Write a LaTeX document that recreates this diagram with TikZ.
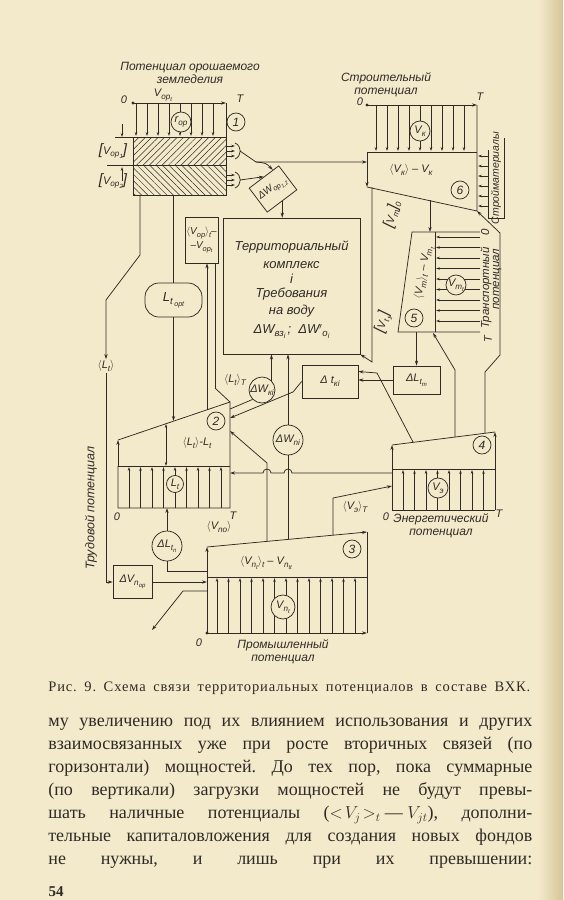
\documentclass[tikz,border=0pt]{standalone}
\usepackage{amsmath}
\usepackage{fontspec}
\setmainfont{Liberation Serif}
\newfontfamily\drawfont{Liberation Sans}
\newfontfamily\capfont[LetterSpace=6]{Liberation Serif}
\usetikzlibrary{arrows.meta,patterns.meta,calc}
\definecolor{paper}{RGB}{243,234,203}
\definecolor{inkgray}{RGB}{48,42,38}
\definecolor{paperedge}{RGB}{214,196,152}
\newcommand{\sbs}[1]{\raisebox{-0.45ex}{\scalebox{0.74}{#1}}}
\newcommand{\angl}[1]{$\langle$#1$\rangle$}
\newcommand{\brk}[1]{{\fontsize{15}{15}\selectfont[}#1{\fontsize{15}{15}\selectfont]}}

\begin{document}
\frenchspacing
\begin{tikzpicture}[x=1pt, y=-1pt, color=inkgray, line width=0.75pt,
    flow/.style={-{Stealth[length=5pt,width=3.2pt]}},
    smallarr/.style={-{Stealth[length=4pt,width=2.6pt]}, line width=0.6pt},
    lbl/.style={font=\drawfont\itshape\fontsize{11}{12}\selectfont, inner sep=1pt},
    ttl/.style={font=\drawfont\itshape\fontsize{12}{13}\selectfont, align=center, inner sep=0pt},
    numc/.style={circle, draw, fill=paper, inner sep=0pt, minimum size=18pt, font=\drawfont\itshape\fontsize{12}{12}\selectfont},
    valc/.style={circle, draw, fill=paper, inner sep=0pt, minimum size=20pt, font=\drawfont\itshape\fontsize{11}{12}\selectfont},
    boxn/.style={draw, fill=paper, inner sep=1pt, align=center, font=\drawfont\itshape\fontsize{11}{13}\selectfont},
    hatchne/.style={pattern={Lines[angle=45,distance=4.5pt,line width=0.5pt]}, pattern color=inkgray},
    hatchnw/.style={pattern={Lines[angle=-45,distance=4.5pt,line width=0.5pt]}, pattern color=inkgray},
    bodytext/.style={font=\fontsize{18}{23}\selectfont, inner sep=0pt, align=left}]

    % page
    \useasboundingbox (0,0) rectangle (563,900);
    \fill[paper] (0,0) rectangle (563,900);
    \shade[left color=paper, right color=paperedge, draw=none] (538,0) rectangle (563,900);

    % irrigated agriculture potential (1)
    \node[ttl] (ttl1) at (190,73) {Потенциал орошаемого\\земледелия};
    \coordinate (b1o) at (133,103);
    \coordinate (b1T) at (226,103);
    \coordinate (b1bl) at (133,195);
    \coordinate (b1br) at (226,195);
    \coordinate (b1out) at (140,195);
    \fill (b1o) circle[radius=1.6pt];
    \draw[flow] (b1o) -- (b1T);
    \draw (b1T) -- (226,137);
    \foreach \x in {136,147,...,214} \draw[smallarr] (\x,103) -- (\x,136);
    \draw (115,137) -- (226,137);
    \draw[hatchne] (133,137) rectangle (226,165);
    \draw[hatchnw] (133,165) rectangle (b1br);
    \draw (107,165) -- (133,165);
    \draw[smallarr] (122,124) -- (122,137);
    \draw[smallarr] (122,181) -- (122,167);
    \node[lbl] (o1) at (124,100) {0};
    \node[lbl] (vopt) at (163,95) {V\sbs{op\sbs{t}}};
    \node[lbl] (t1) at (240,99) {T};
    \node[valc] (rop) at (181,122) {r\sbs{op}};
    \node[numc] (n1) at (236,122) {1};
    \node[lbl] (vop1) at (113,151) {\brk{V\sbs{op\sbs{1}}}};
    \node[lbl] (vop2) at (113,181) {\brk{V\sbs{op\sbs{2}}}};
    \foreach \dy in {-5,0,5} {
        \draw[smallarr] (226,151+\dy) -- (235,151+\dy);
        \draw[smallarr] (226,180+\dy) -- (235,180+\dy);
    }
    \draw (235,143) .. controls (242,146) and (242,156) .. (235,159);
    \draw (235,172) .. controls (242,175) and (242,185) .. (235,188);
    \coordinate (fan1) at (240,151);
    \coordinate (fan2) at (240,180);

    % water use of irrigation
    \node[boxn, rotate=37, minimum width=37pt, minimum height=30pt, font=\drawfont\itshape\fontsize{10}{12}\selectfont] (dwop) at (273,189) {ΔW\sbs{op\sbs{1,2}}};
    \draw[flow] (fan2) -- (dwop.north);
    \draw[flow] (fan1) -- (256,162) -- (367,162);
    \draw[flow] (256,162) .. controls (266,163) .. ($(dwop.north)!0.6!(dwop.north east)$);

    % territorial complex
    \node[boxn, minimum width=137pt, minimum height=136pt] (terr) at (291.5,286) {};
    \node[font=\drawfont\itshape\fontsize{13}{17}\selectfont, align=center, inner sep=0pt] (terrtxt) at (291.5,290)
        {Территориальный\\[1pt]комплекс\\[-2pt]i\\[-3pt]Требования\\на воду\\[2pt]ΔW\sbs{вз\sbs{i}}\,;\;\;ΔW$'$\sbs{o\sbs{i}}};
    \draw[flow] (dwop.south) -- (dwop.south |- terr.north);

    \node[boxn, minimum width=33pt, minimum height=46pt, font=\drawfont\itshape\fontsize{10}{14}\selectfont] (vopbox) at (201.5,240)
        {\angl{V\sbs{op}}\sbs{t}–\\–V\sbs{op\sbs{t}}};
    \node[boxn, rounded corners=14pt, minimum width=57pt, minimum height=34pt, font=\drawfont\itshape\fontsize{13}{13}\selectfont] (ltopt) at (173.5,300)
        {L\sbs{t\,\sbs{opt}}};

    % labour potential (2)
    \coordinate (b2tl) at (118,440);
    \coordinate (b2tr) at (230,402);
    \coordinate (b2ml) at (118,466);
    \coordinate (b2mr) at (230,466);
    \coordinate (b2bl) at (118,508);
    \coordinate (b2br) at (230,508);
    \draw (b2tl) -- (b2tr) -- (b2br) -- (b2bl) -- (b2ml);
    \draw[flow] (b2ml) -- (b2tl);
    \draw (b2ml) -- (b2mr);
    \foreach \x in {129,140.5,...,222} \draw[smallarr] (\x,508) -- (\x,467);
    \node[valc, minimum size=17pt] (lt) at (175,484) {L\sbs{t}};
    \node[numc] (n2) at (216,421) {2};
    \node[lbl] (ltdiff) at (197,443) {\angl{L\sbs{t}}-L\sbs{t}};
    \draw[{Stealth[length=4pt,width=2.4pt]}-{Stealth[length=4pt,width=2.4pt]}, line width=0.6pt] (166,424) -- (166,466);
    \node[lbl] (o2) at (117,517) {0};
    \node[lbl] (t2) at (233,516) {T};
    \node[ttl, rotate=90, font=\drawfont\itshape\fontsize{12.5}{13}\selectfont] (trud) at (91,508) {Трудовой потенциал};

    \draw (b1bl -| ltopt.north) -- (ltopt.north);
    \coordinate (ltin) at (173.5,421);
    \draw[flow] (ltopt.south) -- (ltin);
    \node[lbl] (ltl) at (106,366) {\angl{L\sbs{t}}};
    \draw[flow] (b1out) -- (140,255) -- (106,300) -- (ltl.north);

    % industrial potential (3)
    \coordinate (b3tl) at (207,547);
    \coordinate (b3tr) at (367,532);
    \coordinate (b3ml) at (207,577);
    \coordinate (b3mr) at (367,577);
    \coordinate (b3o) at (207,633);
    \coordinate (b3br) at (367,633);
    \fill (b3o) circle[radius=1.6pt];
    \draw[flow] (b3o) -- (b3br);
    \draw (b3br) -- (b3tr);
    \draw[flow] (b3tl) -- (b3tr);
    \draw (b3o) -- (b3ml);
    \draw[flow] (b3ml) -- (b3tl);
    \draw (b3ml) -- (b3mr);
    \foreach \x in {217,228.5,...,360} \draw[smallarr] (\x,633) -- (\x,578);
    \node[valc, minimum size=24pt] (vnt) at (283,607) {V\sbs{n\sbs{t}}};
    \node[numc] (n3) at (352,549) {3};
    \node[lbl] (vntdiff) at (266,563) {\angl{V\sbs{n\sbs{t}}}\sbs{t} – V\sbs{n\sbs{tt}}};
    \node[lbl] (o3) at (199,643) {0};
    \node[ttl] (prom) at (283,652) {Промышленный\\потенциал};
    \node[lbl] (vno) at (219,527) {\angl{V\sbs{no}}};

    \node[valc, minimum size=30pt] (dltn) at (167,546) {ΔL\sbs{t\sbs{n}}};
    \draw[flow] (dltn.north) -- (dltn.north |- b2bl);
    \coordinate (b3a) at (207,571);
    \draw (dltn.south) -- (dltn.south |- b3a) -- (b3a);

    \node[boxn, minimum width=39pt, minimum height=33pt] (vnop) at (132.5,582) {ΔV\sbs{n\sbs{op}}};
    \draw[flow] (ltl.south) -- (ltl.south |- vnop.west) -- (vnop.west);
    \draw[flow] (vnop.east) -- (vnop.east -| b3ml);
    \coordinate (b3out) at (207,591);
    \coordinate (outend) at (152,630);
    \draw[flow] (b3out) -- (183,591) -- (outend);

    % energy potential (4)
    \coordinate (b4tl) at (392,445);
    \coordinate (b4tr) at (495,432);
    \coordinate (b4ml) at (392,469);
    \coordinate (b4mr) at (495,469);
    \coordinate (b4o) at (392,510);
    \coordinate (b4br) at (495,510);
    \draw (b4tl) -- (b4tr);
    \draw[flow] (b4br) -- (b4tr);
    \draw (b4o) -- (b4br);
    \draw (b4o) -- (b4ml);
    \draw[flow] (b4ml) -- (b4tl);
    \draw (b4ml) -- (b4mr);
    \foreach \x in {403,414.5,...,490} \draw[smallarr] (\x,510) -- (\x,470);
    \node[valc] (ve) at (438,488) {V\sbs{э}};
    \node[numc] (n4) at (482,445) {4};
    \node[lbl] (o4) at (386,517) {0};
    \node[lbl] (t4) at (499,514) {T};
    \node[ttl] (energ) at (441,526) {Энергетический\\потенциал};

    \coordinate (b3e) at (333,535);
    \coordinate (b4in) at (392,486);
    \draw[flow] (b3e) -- (333,498) -- (b4in);
    \node[lbl] (vet) at (355,507) {\angl{V\sbs{э}}\sbs{T}};

    \coordinate (b4w) at (392,473);
    \coordinate (b2e) at (230,473);
    \draw[flow] (b4w) -- (292,473) arc[start angle=0,end angle=180,radius=4pt]
        -- (271,473) arc[start angle=0,end angle=180,radius=4pt] -- (b2e);

    % water use links
    \node[valc, minimum size=30pt] (dwni) at (288,440) {ΔW\sbs{ni}};
    \node[valc, minimum size=26pt] (dwki) at (262,390) {ΔW\sbs{кi}};
    \node[lbl] (ltT) at (235,380) {\angl{L\sbs{t}}\sbs{T}};
    \node[boxn, minimum width=56pt, minimum height=33pt] (dtki) at (330,381.5) {Δ t\sbs{кi}};

    \coordinate (b3c) at (267,541);
    \coordinate (b3d) at (288,539);
    \coordinate (b2r1) at (230,418);
    \coordinate (b2r2) at (230,431);
    \coordinate (b2r3) at (230,409);
    \draw[flow] (b3c) -- (267,463) -- (b2r2);
    \draw (b3d) -- (dwni.south);
    \draw[flow] (dwni.north) -- (dwni.north |- terr.south);
    \draw[flow] (dwki.north east) -- (dwki.north east |- terr.south);
    \draw (dwki.south west) -- (b2r3);
    \draw[flow] (dtki.west) -- (293,392) -- (b2r1);

    \coordinate (b2v) at (207,410);
    \draw[flow] (b2v) -- (b2v |- vopbox.south);
    \draw ([xshift=-3pt]vopbox.south east) -- ++(0,125) -- (b2tr);

    % transport potential (5)
    \coordinate (b5tl) at (412,232);
    \coordinate (b5tr) at (480,232);
    \coordinate (b5bl) at (398,332);
    \coordinate (b5br) at (480,332);
    \coordinate (b5mt) at (435,232);
    \coordinate (b5mb) at (435,332);
    \draw (b5tr) -- (b5tl) -- (b5bl) -- (b5br);
    \draw (b5mt) -- (b5mb);
    \foreach \y in {237,247.5,...,325} \draw[smallarr] (480,\y) -- (436,\y);
    \node[valc] (vmt) at (456,285) {V\sbs{m\sbs{t}}};
    \node[numc] (n5) at (414,318) {5};
    \node[lbl, rotate=80] (vmdiff) at (424,273) {\angl{V\sbs{m}}\sbs{t} – V\sbs{m\sbs{t}}};
    \node[lbl, rotate=75] (vm0) at (392,214) {\brk{V\sbs{m}}\sbs{0}};
    \node[lbl, rotate=75] (vt1) at (383,322) {\brk{V\sbs{t\sbs{1}}}};
    \node[ttl, rotate=90, font=\drawfont\itshape\fontsize{11.5}{10}\selectfont] (transp) at (491,279) {Транспортный\quad 0\\потенциал};
    \node[lbl, rotate=90] (t5) at (488,339) {T};

    \node[boxn, minimum width=47pt, minimum height=28pt] (dltm) at (416.5,380) {ΔL\sbs{t\sbs{m}}};
    \draw[flow] (dltm.north |- b5bl) -- (dltm.north);
    \draw[flow] (dltm.west) -- (dltm.west -| dtki.east);

    \coordinate (b4a) at (413,442);
    \coordinate (b4b) at (455,437);
    \coordinate (b4c) at (485,433);
    \coordinate (b5in) at (433,333);
    \draw[flow] (b4a) -- (377,373) -- ([yshift=10pt]dtki.east);
    \draw[flow] (b4b) -- (455,370) -- (b5in);

    % construction potential (6)
    \node[ttl] (ttl6) at (386,85) {Строительный\\потенциал};
    \coordinate (b6o) at (367,105);
    \coordinate (b6T) at (477,105);
    \coordinate (b6ml) at (367,152);
    \coordinate (b6mr) at (477,152);
    \coordinate (b6bl) at (367,187);
    \coordinate (b6br) at (477,211);
    \fill (b6o) circle[radius=1.6pt];
    \draw[flow] (b6o) -- (b6T);
    \draw (b6T) -- (b6br) -- (b6bl);
    \draw[flow] (b6ml) -- (b6bl);
    \draw (b6ml) -- (b6mr);
    \foreach \x in {376,387,...,470} \draw[smallarr] (\x,105) -- (\x,151);
    \node[valc] (vk) at (420,131) {V\sbs{к}};
    \node[lbl] (vkdiff) at (411,170) {\angl{V\sbs{к}} – V\sbs{к}};
    \node[numc] (n6) at (460,190) {6};
    \node[lbl] (o6) at (360,102) {0};
    \node[lbl] (t6) at (480,97) {T};
    \foreach \y in {156,166,...,206} \draw[smallarr] (488,\y) -- (478,\y);
    \draw (488,150) -- (488,218) -- (504,218) -- (504,138);
    \node[lbl, rotate=90, font=\drawfont\itshape\fontsize{10.5}{11}\selectfont] (stroy) at (496,178) {Стройматериалы};

    \coordinate (b6m5) at (430,200);
    \draw[flow] (b6m5) -- (b6m5 |- b5tl);
    \coordinate (b6v) at (372,187);
    \draw[flow] (b6v) -- (372,362) -- (terr.south east);
    \draw[flow] (b4c) -- (485,372) -- (500,355) -- (500,233) -- (b6br);

    % caption and page text
    \node[font=\capfont\fontsize{14.5}{16}\selectfont, anchor=west, inner sep=0pt] (capt) at (48,688)
        {\makebox[482pt][s]{Рис. 9. Схема связи территориальных потенциалов в составе ВХК.}};
    \node[bodytext, anchor=north west] (txt) at (48,718) {%
        \makebox[484pt][s]{му увеличению под их влиянием использования и других}\\
        \makebox[484pt][s]{взаимосвязанных уже при росте вторичных связей (по}\\
        \makebox[484pt][s]{горизонтали) мощностей. До тех пор, пока суммарные}\\
        \makebox[484pt][s]{(по вертикали) загрузки мощностей не будут превы-}\\
        \makebox[484pt][s]{шать наличные потенциалы \mbox{($<\!V_j\!>_t$ — $V_{jt}$),} дополни-}\\
        \makebox[484pt][s]{тельные капиталовложения для создания новых фондов}\\
        \makebox[484pt][s]{не нужны, и лишь при их превышении:}};
    \node[font=\bfseries\fontsize{15}{15}\selectfont, inner sep=0pt] (pg) at (56,892) {54};
\end{tikzpicture}
\end{document}
